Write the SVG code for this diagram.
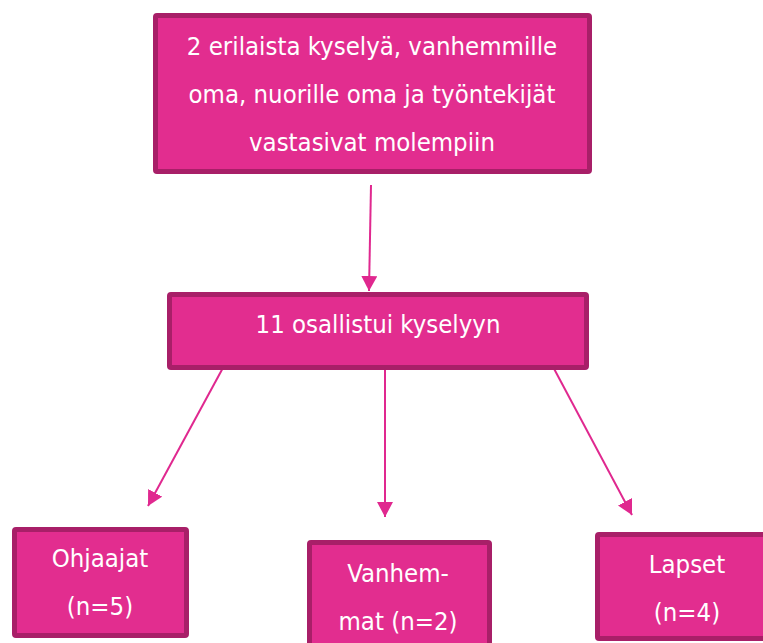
<svg xmlns="http://www.w3.org/2000/svg" width="763" height="643" viewBox="0 0 763 643">
<defs>
<style>
.box{fill:#E22D8F;stroke:#A81F68;stroke-width:5;}
.t{font-family:"DejaVu Sans Condensed","DejaVu Sans",sans-serif;font-size:25.5px;fill:#ffffff;text-anchor:middle;}
.c{stroke:#E0288F;stroke-width:2;fill:none;marker-end:url(#ah);}
</style>
<marker id="ah" markerUnits="userSpaceOnUse" markerWidth="16" markerHeight="16" viewBox="0 0 16 16" refX="15" refY="8" orient="auto">
<path d="M0,0 L15,8 L0,16 Z" fill="#E0288F"/>
</marker>
</defs>
<rect width="763" height="643" fill="#ffffff"/>
<g id="connectors">
<line class="c" x1="371" y1="185" x2="369" y2="291"/>
<line class="c" x1="250" y1="318" x2="148" y2="506"/>
<line class="c" x1="385" y1="370" x2="385" y2="517"/>
<line class="c" x1="527" y1="318" x2="632" y2="515"/>
</g>
<g id="node-top">
<rect class="box" x="155.5" y="15.5" width="434" height="156" rx="1.5"/>
<text class="t" x="372" y="55">2 erilaista kyselyä, vanhemmille</text>
<text class="t" x="372" y="103">oma, nuorille oma ja työntekijät</text>
<text class="t" x="372" y="151">vastasivat molempiin</text>
</g>
<g id="node-middle">
<rect class="box" x="169.5" y="294.5" width="417" height="73" rx="1.5"/>
<text class="t" x="378" y="333">11 osallistui kyselyyn</text>
</g>
<g id="node-ohjaajat">
<rect class="box" x="14.5" y="529.5" width="172" height="106" rx="1.5"/>
<text class="t" x="100" y="567">Ohjaajat</text>
<text class="t" x="100" y="615">(n=5)</text>
</g>
<g id="node-vanhemmat">
<rect class="box" x="309.5" y="542.5" width="180" height="110" rx="1.5"/>
<text class="t" x="398" y="582">Vanhem-</text>
<text class="t" x="398" y="630">mat (n=2)</text>
</g>
<g id="node-lapset">
<rect class="box" x="597.5" y="534.5" width="200" height="104" rx="1.5"/>
<text class="t" x="687" y="573">Lapset</text>
<text class="t" x="687" y="621">(n=4)</text>
</g>
</svg>
